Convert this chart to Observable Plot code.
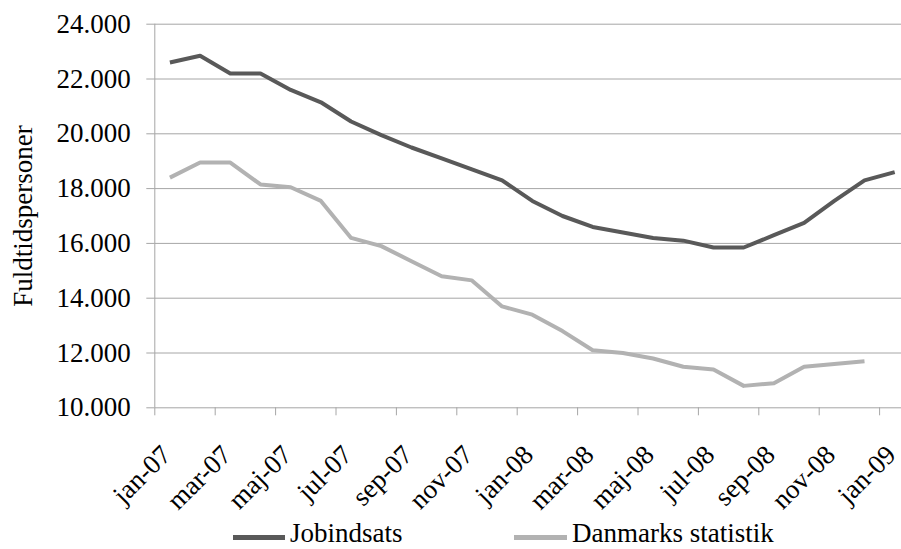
<!DOCTYPE html>
<html>
<head>
<meta charset="utf-8">
<script src="https://cdn.jsdelivr.net/npm/d3@7"></script>
<script src="https://cdn.jsdelivr.net/npm/@observablehq/plot@0.6"></script>
<style>
  html, body { margin: 0; padding: 0; background: #fff; }
  #wrap { position: relative; width: 901px; height: 549px; overflow: hidden; font-family: "Liberation Serif", "DejaVu Serif", "Times New Roman", serif; }
  #wrap svg { position: absolute; left: 0; top: 0; }
  .sw { position: absolute; height: 5px; }
  .lt { position: absolute; font-size: 27px; line-height: 30px; color: #000; white-space: nowrap; }
</style>
</head>
<body>
<div id="wrap"></div>
<script>
const months = ["jan-07","feb-07","mar-07","apr-07","maj-07","jun-07","jul-07","aug-07","sep-07","okt-07","nov-07","dec-07",
                "jan-08","feb-08","mar-08","apr-08","maj-08","jun-08","jul-08","aug-08","sep-08","okt-08","nov-08","dec-08","jan-09"];
const jobindsats = [22600,22850,22200,22200,21600,21150,20450,19950,19500,19100,18700,18300,
                    17550,17000,16600,16400,16200,16100,15850,15850,16300,16750,17550,18300,18600];
const danmarksStatistik = [18400,18950,18950,18150,18050,17550,16200,15900,15350,14800,14650,13700,
                           13400,12800,12100,12000,11800,11500,11400,10800,10900,11500,11600,11700,null];
const seriesNames = ["Jobindsats", "Danmarks statistik"];
const seriesColors = ["#595959", "#b2b2b2"];
const yTicks = [10000,12000,14000,16000,18000,20000,22000,24000];
const yTitle = "Fuldtidspersoner";

const idx = months.map((_, i) => i);
const labelIdx = idx.filter(i => i % 2 === 0);
const boundaries = d3.range(-0.5, months.length, 2);
const rows = [];
[jobindsats, danmarksStatistik].forEach((vals, s) => {
  vals.forEach((v, i) => rows.push({series: seriesNames[s], i, v}));
});
const fmt = d => d3.format(",")(d).replace(/,/g, ".");
const font = "'Liberation Serif', 'DejaVu Serif', 'Times New Roman', serif";
const grid = "#a6a6a6";

const chart = Plot.plot({
  width: 901,
  height: 549,
  marginLeft: 154.3,
  marginRight: 0,
  marginTop: 23.7,
  marginBottom: 141.7,
  style: { fontFamily: font, background: "#fff" },
  x: { type: "linear", domain: [-0.5, months.length - 0.5], range: [154.3, 154.3 + 30.2 * months.length] },
  y: { domain: [10000, 24000] },
  color: { domain: seriesNames, range: seriesColors },
  marks: [
    Plot.ruleY(yTicks, { y: d => d, x1: () => -0.5, x2: () => months.length - 0.5, stroke: grid, strokeWidth: 1 }),
    Plot.ruleX([-0.5], { x: d => d, y1: () => 10000, y2: () => 24000, stroke: grid, strokeWidth: 1 }),
    Plot.axisY({ ticks: yTicks, tickSize: 8, tickPadding: 16, tickFormat: fmt, stroke: grid, fill: "#000", fontSize: 27, label: null }),
    Plot.axisX({ ticks: boundaries, tickSize: 8, tickFormat: () => "", stroke: grid, label: null }),
    Plot.text(labelIdx, { x: d => d, y: () => 10000, text: d => months[d], rotate: -45, textAnchor: "end", lineAnchor: "top", dx: -11, dy: 35, fontSize: 27, fill: "#000" }),
    Plot.text([yTitle], { frameAnchor: "left", textAnchor: "middle", rotate: -90, dx: -131, fontSize: 27, fill: "#000" }),
    Plot.lineY(rows, { x: "i", y: "v", z: "series", stroke: "series", strokeWidth: 4, strokeLinejoin: "round", strokeLinecap: "butt" })
  ]
});

const wrap = document.getElementById("wrap");
wrap.appendChild(chart);

const legendPos = [{sw: 233, tx: 290, w: 52}, {sw: 514, tx: 572, w: 53}];
seriesNames.forEach((name, k) => {
  const sw = document.createElement("div");
  sw.className = "sw";
  sw.style.left = legendPos[k].sw + "px";
  sw.style.top = "535px";
  sw.style.width = legendPos[k].w + "px";
  sw.style.background = seriesColors[k];
  wrap.appendChild(sw);
  const t = document.createElement("div");
  t.className = "lt";
  t.style.left = legendPos[k].tx + "px";
  t.style.top = "518px";
  t.textContent = name;
  wrap.appendChild(t);
});
</script>
</body>
</html>
